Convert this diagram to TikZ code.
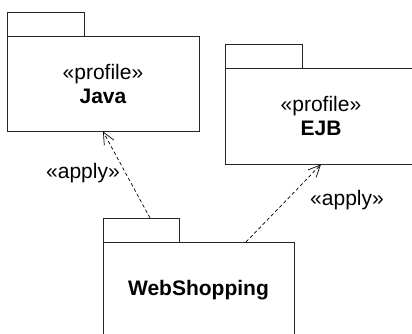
\documentclass[tikz,border=0pt]{standalone}
\usepackage{fontspec}
\setmainfont{Liberation Sans}
\usetikzlibrary{arrows.meta}
\begin{document}
\begin{tikzpicture}[x=1pt,y=-1pt,
  pkg/.style={draw=black!85,line width=0.9pt,fill=white,rectangle,inner sep=0pt,align=center,
    font=\fontsize{21}{24}\selectfont},
  tab/.style={draw=black!85,line width=0.9pt,fill=white,rectangle,inner sep=0pt,minimum height=24pt},
  applyedge/.style={draw=black,line width=0.7pt,dash pattern=on 3.5pt off 2.5pt,
    -{Straight Barb[length=12pt,width=11pt,line width=0.7pt]}},
  lbl/.style={font=\fontsize{21}{24}\selectfont,inner sep=0pt}]
\useasboundingbox (0,0) rectangle (412,333);
\clip (0,0) rectangle (412,333);
% Java
\node[tab,minimum width=77pt] (javatab) at (45.5,24) {};
\node[pkg,minimum width=192pt,minimum height=95pt] (java) at (103,83.5) {«profile»\\\textbf{Java}};
% EJB
\node[tab,minimum width=77pt] (ejbtab) at (263.5,56) {};
\node[pkg,minimum width=192pt,minimum height=96pt] (ejb) at (321,116) {«profile»\\\textbf{EJB}};
% WebShopping
\node[tab,minimum width=76pt] (webtab) at (141,230) {};
\node[pkg,minimum width=191pt,minimum height=96pt] (web) at (198.5,290) {\textbf{WebShopping}};
% connectors
\coordinate (s1) at (150,218);
\coordinate (s2) at (246,242);
\draw[applyedge] (s1) -- (java.south);
\draw[applyedge] (s2) -- (ejb.south);
\node[lbl] (l1) at (83,173) {«apply»};
\node[lbl] (l2) at (347,200) {«apply»};
\end{tikzpicture}
\end{document}
